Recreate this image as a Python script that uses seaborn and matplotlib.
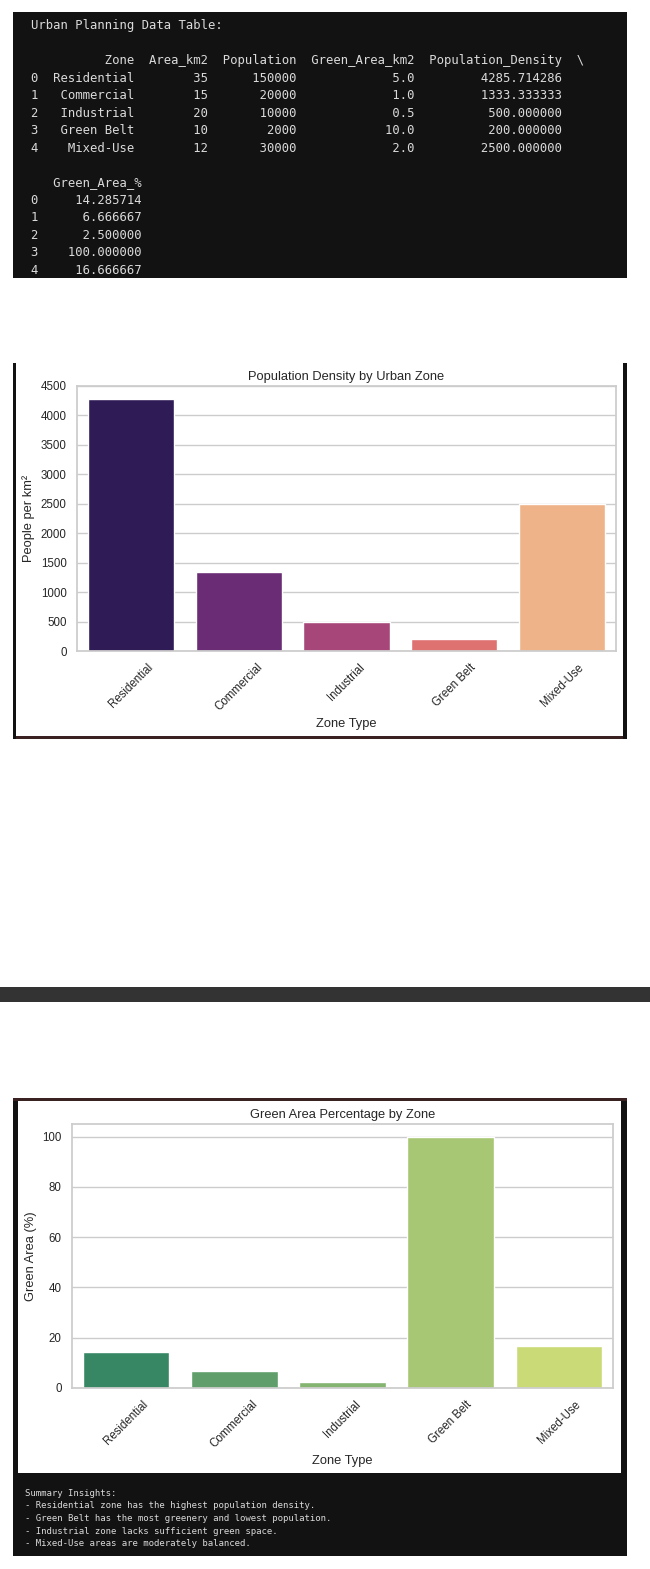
import matplotlib
matplotlib.use("Agg")
import numpy as np
import pandas as pd
import matplotlib.pyplot as plt
from matplotlib.patches import Rectangle
import seaborn as sns

# === DATA ===
zones = ["Residential", "Commercial", "Industrial", "Green Belt", "Mixed-Use"]
area_km2 = [35, 15, 20, 10, 12]
population = [150000, 20000, 10000, 2000, 30000]
green_area_km2 = [5.0, 1.0, 0.5, 10.0, 2.0]

density_ticks = [0, 500, 1000, 1500, 2000, 2500, 3000, 3500, 4000, 4500]
green_ticks = [0, 20, 40, 60, 80, 100]

summary_lines = [
    "Summary Insights:",
    "- Residential zone has the highest population density.",
    "- Green Belt has the most greenery and lowest population.",
    "- Industrial zone lacks sufficient green space.",
    "- Mixed-Use areas are moderately balanced.",
]

df = pd.DataFrame({
    "Zone": zones,
    "Area_km2": area_km2,
    "Population": population,
    "Green_Area_km2": green_area_km2,
})
df["Population_Density"] = df["Population"] / df["Area_km2"]
df["Green_Area_%"] = df["Green_Area_km2"] / df["Area_km2"] * 100

sns.set_theme(style="whitegrid")
plt.rcParams["font.family"] = ["Liberation Sans", "DejaVu Sans"]

W, H = 650, 1569
fig = plt.figure(figsize=(W / 100, H / 100), dpi=100)
fig.patch.set_facecolor("white")


def box(x0, y0, x1, y1, color):
    # pixel coords measured from the top-left corner
    fig.patches.append(Rectangle((x0 / W, 1 - y1 / H), (x1 - x0) / W, (y1 - y0) / H,
                                 transform=fig.transFigure, facecolor=color,
                                 edgecolor="none", zorder=-5))


def ax_rect(left, top, right, bottom):
    return [left / W, 1 - bottom / H, (right - left) / W, (bottom - top) / H]


DARK = "#121212"
BROWN = "#3a2222"
TERM = "#dadada"

# === Terminal table output ===
box(13, 12, 627, 278, DARK)
table_lines = ["Urban Planning Data Table:", ""] + df.to_string(line_width=80).split("\n")
for i, line in enumerate(table_lines):
    fig.text(31 / W, 1 - (26 + 17.43 * i) / H, line, family="DejaVu Sans Mono",
             fontsize=8.8, color=TERM, va="center", ha="left")

# === FIGURE 1 frame ===
box(13, 363, 627, 739, DARK)
box(16, 736, 623, 739, BROWN)
box(16, 363, 623, 736, "white")

ax1 = fig.add_axes(ax_rect(77, 386, 616, 651))
sns.barplot(data=df, x="Zone", y="Population_Density", hue="Zone", palette="magma",
            legend=False, ax=ax1)
ax1.set_ylim(0, 4500)
ax1.set_yticks(density_ticks)
ax1.set_title("Population Density by Urban Zone", fontsize=9.3, pad=4.5)
ax1.set_xlabel("Zone Type", fontsize=9.3, labelpad=3)
ax1.set_ylabel("People per km²", fontsize=9.3, labelpad=4)
ax1.tick_params(axis="x", rotation=45)
ax1.tick_params(labelsize=8.3, length=0, pad=7.5)

# separator bar between outputs
box(0, 987, 650, 1002, "#333333")

# === FIGURE 2 frame ===
box(13, 1099, 627, 1556, DARK)
box(13, 1098, 627, 1101, BROWN)
box(18, 1101, 621, 1473, "white")

ax2 = fig.add_axes(ax_rect(72, 1124, 613, 1388))
sns.barplot(data=df, x="Zone", y="Green_Area_%", hue="Zone", palette="summer",
            legend=False, ax=ax2)
ax2.set_yticks(green_ticks)
ax2.set_ylim(0, 105)
ax2.set_title("Green Area Percentage by Zone", fontsize=9.3, pad=4.5)
ax2.set_xlabel("Zone Type", fontsize=9.3, labelpad=3)
ax2.set_ylabel("Green Area (%)", fontsize=9.3, labelpad=4)
ax2.tick_params(axis="x", rotation=45)
ax2.tick_params(labelsize=8.3, length=0, pad=7.5)

# === Summary text ===
for i, line in enumerate(summary_lines):
    fig.text(25 / W, 1 - (1493 + 12.75 * i) / H, line, family="DejaVu Sans Mono",
             fontsize=6.45, color=TERM, va="center", ha="left")

fig.savefig("out.png", dpi=100)
print("Saved out.png")
